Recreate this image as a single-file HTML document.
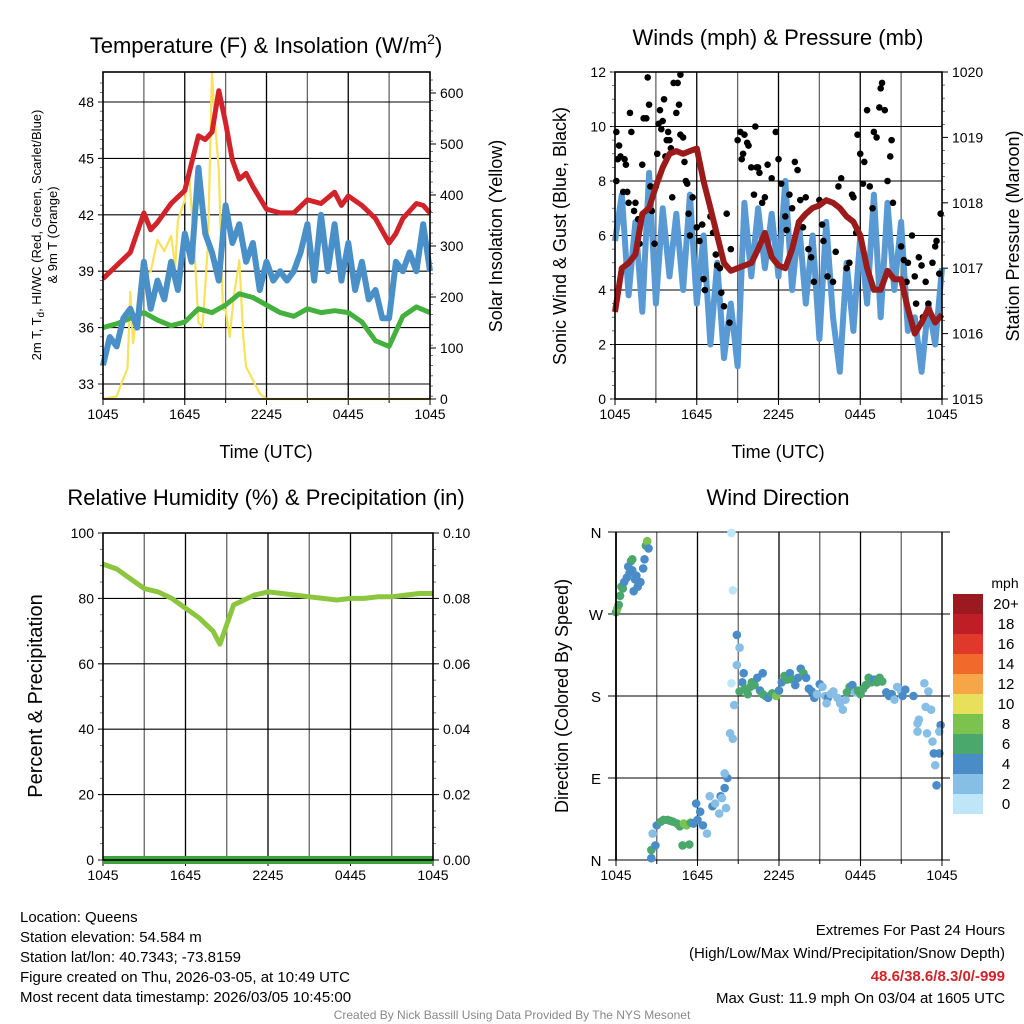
<!DOCTYPE html>
<html><head><meta charset="utf-8"><style>
html,body{margin:0;padding:0;background:#fff}
svg{display:block;font-family:"Liberation Sans",sans-serif}
</style></head><body>
<svg id="c" width="1024" height="1024" viewBox="0 0 1024 1024" xmlns="http://www.w3.org/2000/svg"></svg>
<script>
// ---------- data ----------
const timeTicks=["1045","1645","2245","0445","1045"];
const redHours=[0,1,2,3,3.5,4,5,6,7,7.5,8,8.5,9,9.5,10,10.5,11,12,13,14,15,16,17,17.5,18,19,20,21,21.5,22,23,23.5,24];
const redTemp=[38.6,39.3,40.0,42.1,41.2,41.6,42.6,43.3,46.2,46.0,46.4,48.6,46.9,44.9,43.9,44.2,43.5,42.3,42.1,42.1,42.8,42.6,43.2,42.5,43.0,42.5,41.8,40.5,41.0,41.8,42.6,42.5,42.1];
const blueTemp=[34.0,35.5,35.0,36.5,37.0,36.0,39.5,37.0,38.5,37.5,39.5,38.0,41.0,39.5,44.5,41.0,40.0,38.5,42.5,40.5,41.5,39.5,40.5,38.0,39.5,38.5,39.0,38.5,39.0,40.0,41.5,38.5,42.0,39.0,41.5,38.5,40.5,38.0,39.5,37.5,38.0,36.5,36.5,39.5,39.0,40.0,39.0,41.5,39.0];
const greenTemp=[36.0,36.2,36.5,36.8,36.4,36.1,36.3,37.0,36.8,37.2,37.8,37.6,37.2,36.8,36.6,37.0,36.8,36.9,36.8,36.3,35.3,35.0,36.6,37.1,36.8];
const solarHours=[0,1,1.5,1.8,2,2.2,2.5,3,3.5,4,4.5,5,5.3,5.5,6,6.3,6.7,7,7.3,7.7,8,8.2,8.5,8.8,9,9.3,9.6,10,10.3,10.5,11,11.5,12,24];
const solarVals=[0,5,40,60,210,110,170,240,250,312,290,320,260,350,390,450,300,150,142,300,640,550,449,175,175,122,200,272,120,63,37,11,0,0];
const windSpeed=[5.8,7.5,3.8,6.5,3.2,8.3,3.5,7.0,4.5,6.8,4.0,7.5,3.5,6.0,2.0,5.0,1.5,3.5,1.2,7.2,4.5,7.0,4.8,6.8,4.5,8.0,4.0,6.5,3.5,6.0,2.2,6.5,3.0,1.0,5.0,2.5,6.0,3.5,7.5,3.0,7.2,4.0,6.5,2.5,3.0,1.0,3.5,2.0,4.8];
const pressure=[1016.33,1017.00,1017.08,1017.21,1017.83,1017.92,1018.25,1018.54,1018.75,1018.79,1018.75,1018.79,1018.83,1018.33,1017.92,1017.50,1017.08,1016.96,1017.00,1017.04,1017.08,1017.29,1017.54,1017.17,1017.04,1017.00,1017.29,1017.71,1017.83,1017.92,1017.96,1018.04,1018.00,1017.92,1017.79,1017.71,1017.50,1017.00,1016.67,1016.67,1016.96,1016.83,1016.83,1016.38,1016.00,1016.17,1016.38,1016.17,1016.29];
const gusts=[[0.1,9.8],[0.1,8.0],[0.2,8.8],[0.3,9.3],[0.4,8.9],[0.6,7.6],[0.7,8.8],[0.8,8.6],[0.9,7.6],[1.0,7.2],[1.1,10.5],[1.2,9.8],[1.4,6.9],[1.5,7.2],[1.7,6.6],[1.8,5.7],[2.0,8.6],[2.1,10.3],[2.3,10.3],[2.4,11.8],[2.5,10.8],[2.6,7.8],[2.7,6.9],[2.9,5.7],[3.0,7.8],[3.1,9.0],[3.2,10.1],[3.3,10.6],[3.4,9.9],[3.5,10.2],[3.6,11.0],[3.7,8.9],[3.8,9.5],[3.9,9.8],[4.0,9.5],[4.1,9.2],[4.2,7.4],[4.3,11.6],[4.5,10.5],[4.6,11.6],[4.7,10.8],[4.8,11.9],[4.8,9.7],[5.0,9.6],[5.1,8.7],[5.2,8.0],[5.3,7.9],[5.4,6.8],[5.5,6.0],[5.7,7.4],[6.0,6.3],[6.2,5.8],[6.4,6.4],[6.5,4.4],[6.6,4.0],[7.0,6.7],[7.2,6.1],[7.4,5.3],[7.5,4.9],[7.7,4.8],[7.8,3.9],[8.0,3.4],[8.2,6.8],[8.4,2.8],[8.5,5.5],[9.0,9.5],[9.2,9.8],[9.3,8.8],[9.4,9.0],[9.5,9.7],[9.7,9.4],[9.8,9.3],[10.0,8.5],[10.2,7.5],[10.3,10.0],[10.4,8.5],[10.5,8.5],[10.6,8.3],[10.8,7.2],[11.0,7.4],[11.2,8.6],[11.5,8.1],[11.8,9.8],[12.0,8.8],[12.2,7.9],[12.5,6.7],[12.6,6.2],[12.8,7.5],[13.0,7.0],[13.2,8.7],[13.4,8.4],[13.6,7.3],[13.8,6.3],[14.0,7.4],[14.2,5.5],[14.4,5.2],[14.6,4.3],[15.0,7.3],[15.2,6.4],[15.3,5.8],[15.6,4.5],[16.0,4.3],[16.2,5.4],[16.4,7.8],[16.6,8.1],[17.0,4.8],[17.2,5.0],[17.4,7.5],[17.5,7.4],[17.7,6.1],[17.8,9.7],[18.0,9.0],[18.2,7.9],[18.3,8.7],[18.5,10.6],[18.7,7.8],[18.9,7.0],[19.0,9.8],[19.2,9.6],[19.4,10.7],[19.5,11.4],[19.6,11.6],[19.8,10.6],[20.0,8.0],[20.2,8.9],[20.3,9.5],[20.4,7.2],[21.0,5.6],[21.2,5.1],[21.4,4.3],[21.5,5.0],[21.8,6.0],[22.0,4.5],[22.1,3.5],[22.3,5.2],[22.5,4.9],[22.6,3.0],[22.8,4.3],[23.0,3.5],[23.3,5.0],[23.5,5.6],[23.6,5.8],[23.8,4.6],[23.9,6.8]];
const rhHours=[0,1,2,3,4,5,6,7,7.5,8,8.5,9,9.5,10,11,12,13,14,15,16,17,18,19,20,21,22,23,24];
const rhVals=[90.5,89,86,83,82,80,77,74,72,70,66,72,78,79,81,82,81.5,81,80.5,80,79.5,80,80,80.5,80.5,81,81.5,81.5];
const precipVals=[0,0,0,0,0,0,0,0,0,0,0,0,0,0,0,0,0,0,0,0,0,0,0,0,0];
const dirObs=[[0,272,6],[0.1,276,8],[0.2,280,6],[0.3,290,6],[0.4,300,6],[0.5,298,6],[0.6,305,4],[0.8,310,4],[1.0,315,4],[1.2,318,4],[1.3,295,4],[1.4,308,4],[1.5,312,4],[1.6,300,4],[1.8,305,4],[2.0,320,4],[2.1,330,4],[2.2,345,6],[2.3,350,8],[2.4,342,4],[1.1,328,6],[0.9,322,4],[1.2,330,6],
[2.6,2,4],[2.6,11,6],[2.9,16,4],[2.7,29,2],[3.0,38,4],[3.3,42,6],[3.5,44,6],[3.8,44,6],[4.0,43,6],[4.2,42,6],[4.5,40,6],[4.7,37,6],[4.9,16,6],[5.4,17,6],[5.2,38,8],[5.0,40,8],[5.5,41,6],[5.7,40,4],[5.9,62,4],[6.0,44,4],[6.2,53,4],[6.4,38,4],[6.7,29,2],[6.9,70,2],[7.1,59,4],[7.3,62,2],[7.6,51,2],[7.7,70,4],[7.8,68,2],[8.0,79,4],[8.1,57,2],[8.2,90,4],[8.0,95,2],[8.4,139,2],[8.6,133,2],[8.7,170,2],[8.5,194,0],[8.9,214,2],[9.1,233,2],[8.9,247,4],[8.6,296,0],[8.5,359,0],
[9.1,185,6],[9.3,195,4],[9.5,188,6],[9.7,182,6],[9.9,190,6],[10.0,195,6],[10.2,192,6],[10.4,200,4],[10.6,186,4],[10.8,182,6],[11.0,180,6],[11.2,178,4],[11.5,183,6],[11.8,180,8],[12.0,186,4],[12.2,195,4],[12.4,202,6],[12.6,198,6],[12.8,205,4],[13.0,198,6],[13.2,192,4],[13.4,200,4],[13.6,210,4],[13.8,205,6],[14.0,200,4],[14.2,188,4],[14.4,185,4],[14.6,178,4],[14.8,182,2],[15.0,193,4],[15.2,190,2],[15.4,180,2],[15.6,178,4],[15.8,182,2],[16.0,185,2],[16.3,178,2],[16.5,172,2],[16.7,165,2],[16.9,176,2],[17.0,184,6],[17.2,190,6],[17.4,192,4],[17.6,184,2],[17.8,186,6],[18.0,182,6],[18.2,188,6],[18.4,192,6],[18.6,200,6],[18.8,195,6],[19.0,198,4],[19.2,195,6],[19.4,200,6],[19.6,196,6],[19.9,184,4],[20.1,180,4],[20.3,182,4],[20.5,176,2],[20.7,190,2],[21.0,185,2],[15.5,172,2],[10.8,205,4],[9.4,205,4],
[21.1,180,4],[21.3,187,4],[21.9,180,4],[22.7,194,2],[23.0,185,2],[22.8,168,2],[23.2,165,2],[22.2,150,2],[22.3,154,2],[22.2,141,2],[22.9,139,2],[23.3,130,2],[23.4,117,4],[23.8,117,4],[23.5,104,2],[23.6,82,4],[23.9,148,4],[23.8,141,2]];
const legendLabels=["20+","18","16","14","12","10","8","6","4","2","0"];
const legendColors=["#9b1a1f","#bf1e26","#e0382b","#f26a2b","#f7a647","#e8e05a","#7cc24f","#4aa86c","#4a8cc8","#86bee6","#bee6f8"];

// ---------- helpers ----------
const NS="http://www.w3.org/2000/svg";
const svg=document.getElementById('c');
function el(tag,attrs,parent,text){const e=document.createElementNS(NS,tag);for(const k in attrs)e.setAttribute(k,attrs[k]);if(text!==undefined)e.textContent=text;(parent||svg).appendChild(e);return e;}
function lin(d0,d1,r0,r1){return v=>r0+(v-d0)*(r1-r0)/(d1-d0);}
function txt(x,y,s,size,anchor,parent,extra){const t=el('text',Object.assign({x:x,y:y,'font-size':size,'text-anchor':anchor||'middle',fill:'#000'},extra||{}),parent,s);return t;}
function colorFor(s){const i=Math.min(10,Math.floor(s/2));return legendColors[10-i];}

function panelFrame(g,x0,x1,y0,y1){
  const fx=lin(0,24,x0,x1);
  for(let h=3;h<24;h+=3){
    const l=el('line',{x1:fx(h),x2:fx(h),y1:y0,y2:y1,stroke:h%6?'#666':'#000','stroke-width':1.3},g);
    
    
  }
  for(let i=0;i<5;i++){
    const x=fx(i*6);
    el('line',{x1:x,x2:x,y1:y1,y2:y1+6,stroke:'#000'},g);
    const t=txt(x,y1+20,timeTicks[i],14,'middle',g);
    
    
  }
  for(let h=3;h<24;h+=6) el('line',{x1:fx(h),x2:fx(h),y1:y1,y2:y1+4,stroke:'#000'},g);
  return fx;
}
function hgrid(g,x0,x1,y,labels,fy,left,fmt,size){
  labels.forEach(v=>{
    const yy=fy(v);
    el('line',{x1:x0-5,x2:x1,y1:yy,y2:yy,stroke:'#000','stroke-width':1.1},g);
    const t=txt(x0-9,yy+5,fmt?fmt(v):String(v),size||14,'end',g);
    
    
  });
}
function rightTicks(g,x1,vals,fy,fmt,size){
  vals.forEach(v=>{
    const yy=fy(v);
    el('line',{x1:x1,x2:x1+6,y1:yy,y2:yy,stroke:'#000'},g);
    const t=txt(x1+10,yy+5,fmt?fmt(v):String(v),size||14,'start',g);
    
    
  });
}
function minorTicks(g,x,y0,y1,step,dir){for(let y=y0;y<=y1+0.1;y+=step)el('line',{x1:x,x2:x+dir*3,y1:y,y2:y,stroke:'#555','stroke-width':0.8},g);}
function border(g,x0,x1,y0,y1){const r=el('rect',{x:x0,y:y0,width:x1-x0,height:y1-y0,fill:'none',stroke:'#000','stroke-width':1.6},g);}
function pathFrom(xs,ys){return xs.map((x,i)=>(i?'L':'M')+x.toFixed(1)+','+ys[i].toFixed(1)).join('');}
function rotText(x,y,s,size,g){return txt(0,0,s,size,'middle',g,{transform:`translate(${x},${y}) rotate(-90)`});}

// ---------- Panel 1: temperature ----------
{
const g=el('g',{});
const x0=103,x1=430,y0=72,y1=399;
const fy=lin(33,48,384,102), fs=lin(0,600,399,93);
const fx=panelFrame(g,x0,x1,y0,y1);
hgrid(g,x0,x1,0,[33,36,39,42,45,48],fy);
el('line',{x1:x0,x2:x1,y1:y0,y2:y0,stroke:'#000'},g);
minorTicks(g,x0,y0+11,y1,18.8/2,-1);minorTicks(g,x1,y0+8,y1,10.2,1);
rightTicks(g,x1,[0,100,200,300,400,500,600],fs);
const ys=el('path',{d:pathFrom(solarHours.map(fx),solarVals.map(fs)),fill:'none',stroke:'#f7e25a','stroke-width':2.2,'stroke-linejoin':'round'},g);

const gr=el('path',{d:pathFrom(greenTemp.map((v,i)=>fx(i)),greenTemp.map(fy)),fill:'none',stroke:'#44b03e','stroke-width':5,'stroke-linejoin':'round'},g);

const bl=el('path',{d:pathFrom(blueTemp.map((v,i)=>fx(i/2)),blueTemp.map(fy)),fill:'none',stroke:'#4a90c8','stroke-width':6,'stroke-linejoin':'round'},g);

const rd=el('path',{d:pathFrom(redHours.map(fx),redTemp.map(fy)),fill:'none',stroke:'#d2232a','stroke-width':5,'stroke-linejoin':'round'},g);

border(g,x0,x1,y0,y1);
const t1=txt(266,53,'Temperature (F) & Insolation (W/m',22,'middle',g);
el('tspan',{dy:-9,'font-size':14},t1,'2');el('tspan',{dy:9},t1,')');

const a=txt(266,458,'Time (UTC)',18,'middle',g);
const l1=rotText(41,235,'2m T, T',13,g);el('tspan',{'font-size':10,dy:3},l1,'d');el('tspan',{dy:-3},l1,', HI/WC (Red, Green, Scarlet/Blue)');

const l2=rotText(57,235,'& 9m T (Orange)',13,g);
const r=rotText(502,236,'Solar Insolation (Yellow)',18,g);
}

// ---------- Panel 2: winds ----------
{
const g=el('g',{});
const x0=615,x1=942,y0=72,y1=399;
const fy=lin(0,12,399,72), fp=lin(1015,1020,399,72);
const fx=panelFrame(g,x0,x1,y0,y1);
hgrid(g,x0,x1,0,[0,2,4,6,8,10,12],fy);
minorTicks(g,x0,y0,y1,27.25/2,-1);minorTicks(g,x1,y0,y1,65.4/5,1);
rightTicks(g,x1,[1015,1016,1017,1018,1019,1020],fp);
const bl=el('path',{d:pathFrom(windSpeed.map((v,i)=>fx(i/2)),windSpeed.map(fy)),fill:'none',stroke:'#5a9ad4','stroke-width':6,'stroke-linejoin':'round'},g);

gusts.forEach(p=>{const c=el('circle',{cx:fx(p[0]),cy:fy(p[1]),r:3.3,fill:'#000'},g);
});
const pr=el('path',{d:pathFrom(pressure.map((v,i)=>fx(i/2)),pressure.map(fp)),fill:'none',stroke:'#9b1b1b','stroke-width':6,'stroke-linejoin':'round'},g);

border(g,x0,x1,y0,y1);
const t=txt(778,45,'Winds (mph) & Pressure (mb)',22,'middle',g);
const a=txt(778,458,'Time (UTC)',18,'middle',g);
const l=rotText(566,236,'Sonic Wind & Gust (Blue, Black)',18,g);
const r=rotText(1019,236,'Station Pressure (Maroon)',18,g);
}

// ---------- Panel 3: humidity ----------
{
const g=el('g',{});
const x0=103,x1=433,y0=533,y1=860;
const fy=lin(0,100,860,533), fq=lin(0,0.1,860,533);
const fx=panelFrame(g,x0,x1,y0,y1);
hgrid(g,x0,x1,0,[0,20,40,60,80,100],fy);
minorTicks(g,x0,y0,y1,16.35,-1);minorTicks(g,x1,y0,y1,16.35,1);
rightTicks(g,x1,[0,0.02,0.04,0.06,0.08,0.1],fq,v=>v.toFixed(2));
const rh=el('path',{d:pathFrom(rhHours.map(fx),rhVals.map(fy)),fill:'none',stroke:'#8cc63f','stroke-width':5,'stroke-linejoin':'round'},g);

const pp=el('path',{d:pathFrom(precipVals.map((v,i)=>fx(i)),precipVals.map(fq)),fill:'none',stroke:'#3aa53a','stroke-width':8},g);

border(g,x0,x1,y0,y1);
const t=txt(266,505,'Relative Humidity (%) & Precipitation (in)',22,'middle',g);
const l=rotText(42,696,'Percent & Precipitation',20,g);
}

// ---------- Panel 4: wind direction ----------
{
const g=el('g',{});
const x0=616,x1=942,y0=532,y1=860;
const fy=lin(0,360,860,532);
const fx=panelFrame(g,x0,x1,y0,y1);
const dl=["N","E","S","W","N"];
[0,90,180,270,360].forEach((v,i)=>{const yy=fy(v);el('line',{x1:x0-8,x2:x1+8,y1:yy,y2:yy,stroke:'#000','stroke-width':1.1},g);
const tt=txt(x0-20,yy+6,dl[i],15,'middle',g);});
dirObs.forEach(p=>{const c=el('circle',{cx:fx(p[0]),cy:fy(p[1]),r:4.3,fill:colorFor(p[2])},g);
});
el('line',{x1:x0,x2:x0,y1:y0,y2:y1,stroke:'#000','stroke-width':1.8},g);
el('line',{x1:x1,x2:x1,y1:y0,y2:y1,stroke:'#000','stroke-width':1.4},g);
const t=txt(778,505,'Wind Direction',22,'middle',g);
const l=rotText(568,696,'Direction (Colored By Speed)',18,g);
const lg=el('g',{},g);
const mt=txt(1005,588,'mph',14,'middle',lg);
legendLabels.forEach((s,i)=>{
  const r=el('rect',{x:953,y:594+i*20,width:30,height:20,fill:legendColors[i]},lg);
  
  const tt=txt(1006,609+i*20,s,15,'middle',lg);
  
});
}

// ---------- footer text ----------
{
const g=el('g',{});
["Location: Queens","Station elevation: 54.584 m","Station lat/lon: 40.7343; -73.8159","Figure created on Thu, 2026-03-05, at 10:49 UTC","Most recent data timestamp: 2026/03/05 10:45:00"].forEach((s,i)=>{
  const t=txt(20,922+i*20,s,15,'start',g);});
const e=el('g',{});
let t=txt(1005,935,'Extremes For Past 24 Hours',15,'end',e);
t=txt(1005,958,'(High/Low/Max Wind/Precipitation/Snow Depth)',15,'end',e);
t=txt(1005,981,'48.6/38.6/8.3/0/-999',15,'end',e,{fill:'#d2232a','font-weight':'bold'});
t=txt(1005,1003,'Max Gust: 11.9 mph On 03/04 at 1605 UTC',15,'end',e);
t=txt(512,1019,'Created By Nick Bassill Using Data Provided By The NYS Mesonet',12,'middle',svg,{fill:'#888'});
}
</script>
</body></html>
